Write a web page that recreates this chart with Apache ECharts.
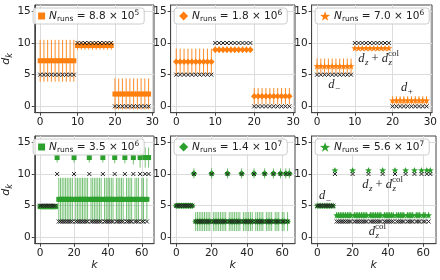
<!DOCTYPE html>
<html><head><meta charset="utf-8">
<script src="https://cdn.jsdelivr.net/npm/echarts@6/dist/echarts.min.js"></script>
<style>html,body{margin:0;padding:0;background:#fff}#c{width:440px;height:280px}</style>
</head><body><div id="c"></div>
<script>
// ---------------- DATA ----------------
const kTop = [0,1,2,3,4,5,6,7,8,9,10,11,12,13,14,15,16,17,18,19,20,21,22,23,24,25,26,27,28,29];
const trueTop = [5,5,5,5,5,5,5,5,5,5, 10,10,10,10,10,10,10,10,10,10, 0,0,0,0,0,0,0,0,0,0];
const estP1 = [7.2,7.2,7.2,7.2,7.2,7.2,7.2,7.2,7.2,7.2, 9.6,9.6,9.6,9.6,9.6,9.6,9.6,9.6,9.6,9.6, 1.95,1.95,1.95,1.95,1.95,1.95,1.95,1.95,1.95,1.95];
const errP1 = [3.3,3.3,3.3,3.3,3.3,3.3,3.3,3.3,3.3,3.3, 0.65,0.65,0.65,0.65,0.65,0.65,0.65,0.65,0.65,0.65, 2.45,2.45,2.45,2.45,2.45,2.45,2.45,2.45,2.45,2.45];
const estP2 = [7.05,7.05,7.05,7.05,7.05,7.05,7.05,7.05,7.05,7.05, 8.95,8.95,8.95,8.95,8.95,8.95,8.95,8.95,8.95,8.95, 1.6,1.6,1.6,1.6,1.6,1.6,1.6,1.6,1.6,1.6];
const errP2 = [2.05,2.05,2.05,2.05,2.05,2.05,2.05,2.05,2.05,2.05, 0.5,0.5,0.5,0.5,0.5,0.5,0.5,0.5,0.5,0.5, 1.3,1.3,1.3,1.3,1.3,1.3,1.3,1.3,1.3,1.3];
const estP3 = [6.35,6.35,6.35,6.35,6.35,6.35,6.35,6.35,6.35,6.35, 9.2,9.2,9.2,9.2,9.2,9.2,9.2,9.2,9.2,9.2, 0.95,0.95,0.95,0.95,0.95,0.95,0.95,0.95,0.95,0.95];
const errP3 = [1.2,1.2,1.2,1.2,1.2,1.2,1.2,1.2,1.2,1.2, 0.3,0.3,0.3,0.3,0.3,0.3,0.3,0.3,0.3,0.3, 0.65,0.65,0.65,0.65,0.65,0.65,0.65,0.65,0.65,0.65];

const kBot = [0,1,2,3,4,5,6,7,8,9,10,11,12,13,14,15,16,17,18,19,20,21,22,23,24,25,26,27,28,29,30,31,32,33,34,35,36,37,38,39,40,41,42,43,44,45,46,47,48,49,50,51,52,53,54,55,56,57,58,59,60,61,62,63,64];
const trueBot = [5,5,5,5,5,5,5,5,5,5,
  10, 2.5,2.5,2.5,2.5,2.5,2.5,2.5,2.5,2.5,
  10, 2.5,2.5,2.5,2.5,2.5,2.5,2.5,2.5,
  10, 2.5,2.5,2.5,2.5,2.5,2.5,2.5,
  10, 2.5,2.5,2.5,2.5,2.5,2.5,
  10, 2.5,2.5,2.5,2.5,2.5,
  10, 2.5,2.5,2.5,2.5,
  10, 2.5,2.5,2.5,
  10, 2.5,2.5,
  10, 2.5,
  10];
const estP4 = [4.85,4.85,4.85,4.85,4.85,4.85,4.85,4.85,4.85,4.85,
  12.6, 6.0,6.0,6.0,6.0,6.0,6.0,6.0,6.0,6.0,
  12.6, 6.0,6.0,6.0,6.0,6.0,6.0,6.0,6.0,
  12.6, 6.0,6.0,6.0,6.0,6.0,6.0,6.0,
  12.6, 6.0,6.0,6.0,6.0,6.0,6.0,
  12.6, 6.0,6.0,6.0,6.0,6.0,
  12.6, 6.0,6.0,6.0,6.0,
  12.6, 6.0,6.0,6.0,
  12.6, 6.0,6.0,
  12.6, 6.0,
  12.6];
const errP4 = [0.25,0.25,0.25,0.25,0.25,0.25,0.25,0.25,0.25,0.25,
  0.8, 3.4,3.4,3.4,3.4,3.4,3.4,3.4,3.4,3.4,
  0.8, 3.4,3.4,3.4,3.4,3.4,3.4,3.4,3.4,
  0.8, 3.4,3.4,3.4,3.4,3.4,3.4,3.4,
  0.8, 3.4,3.4,3.4,3.4,3.4,3.4,
  0.9, 3.4,3.4,3.4,3.4,3.4,
  0.9, 3.4,3.4,3.4,3.4,
  1.1, 3.4,3.4,3.4,
  1.6, 3.4,3.4,
  1.6, 3.4,
  1.6];
const estP5 = [5.0,5.0,5.0,5.0,5.0,5.0,5.0,5.0,5.0,5.0,
  10.1, 2.5,2.5,2.5,2.5,2.5,2.5,2.5,2.5,2.5,
  10.1, 2.5,2.5,2.5,2.5,2.5,2.5,2.5,2.5,
  10.1, 2.5,2.5,2.5,2.5,2.5,2.5,2.5,
  10.1, 2.5,2.5,2.5,2.5,2.5,2.5,
  10.1, 2.5,2.5,2.5,2.5,2.5,
  10.1, 2.5,2.5,2.5,2.5,
  10.1, 2.5,2.5,2.5,
  10.1, 2.5,2.5,
  10.1, 2.5,
  10.1];
const errP5 = [0.15,0.15,0.15,0.15,0.15,0.15,0.15,0.15,0.15,0.15,
  0.8, 1.5,1.5,1.5,1.5,1.5,1.5,1.5,1.5,1.5,
  0.8, 1.5,1.5,1.5,1.5,1.5,1.5,1.5,1.5,
  0.8, 1.5,1.5,1.5,1.5,1.5,1.5,1.5,
  0.8, 1.5,1.5,1.5,1.5,1.5,1.5,
  0.8, 1.5,1.5,1.5,1.5,1.5,
  0.8, 1.5,1.5,1.5,1.5,
  0.8, 1.5,1.5,1.5,
  0.8, 1.5,1.5,
  0.8, 1.5,
  0.8];
const estP6 = [5.0,5.0,5.0,5.0,5.0,5.0,5.0,5.0,5.0,5.0,
  10.6, 3.5,3.5,3.5,3.5,3.5,3.5,3.5,3.5,3.5,
  10.6, 3.5,3.5,3.5,3.5,3.5,3.5,3.5,3.5,
  10.6, 3.5,3.5,3.5,3.5,3.5,3.5,3.5,
  10.6, 3.5,3.5,3.5,3.5,3.5,3.5,
  10.6, 3.5,3.5,3.5,3.5,3.5,
  10.6, 3.5,3.5,3.5,3.5,
  10.6, 3.5,3.5,3.5,
  10.6, 3.5,3.5,
  10.6, 3.5,
  10.6];
const errP6 = [0.1,0.1,0.1,0.1,0.1,0.1,0.1,0.1,0.1,0.1,
  0.3, 0.5,0.5,0.5,0.5,0.5,0.5,0.5,0.5,0.5,
  0.3, 0.5,0.5,0.5,0.5,0.5,0.5,0.5,0.5,
  0.3, 0.5,0.5,0.5,0.5,0.5,0.5,0.5,
  0.3, 0.5,0.5,0.5,0.5,0.5,0.5,
  0.3, 0.5,0.5,0.5,0.5,0.5,
  0.3, 0.5,0.5,0.5,0.5,
  0.3, 0.5,0.5,0.5,
  0.3, 0.5,0.5,
  0.3, 0.5,
  0.3];

const runsMantissa = ['8.8','1.8','7.0','3.5','1.4','5.6'];
const runsExponent = ['5','6','6','6','7','7'];
const xTicksTop = [0,10,20,30];
const xTicksBot = [0,20,40,60];
const yTicks = [0,5,10,15];

// annotation texts (panel, x, y in data units)
const annotations = [
  {panel:2, x:4.5, y:3.4, parts:[{t:'d',f:'i'},{sub:'−'}]},
  {panel:2, x:16.3, y:7.5, parts:[{t:'d',f:'i'},{sub:'z',subI:true},{t:' + ',f:'r'},{t:'d',f:'i'},{sup:'col',sub:'z',subI:true}]},
  {panel:2, x:23.8, y:2.9, parts:[{t:'d',f:'i'},{sub:'+'}]},
  {panel:5, x:4.4, y:6.5, parts:[{t:'d',f:'i'},{sub:'−'}]},
  {panel:5, x:37, y:8.3, parts:[{t:'d',f:'i'},{sub:'z',subI:true},{t:' + ',f:'r'},{t:'d',f:'i'},{sup:'col',sub:'z',subI:true}]},
  {panel:5, x:34, y:0.95, parts:[{t:'d',f:'i'},{sup:'col',sub:'z',subI:true}]}
];

// ---------------- CHART ----------------
const chart = echarts.init(document.getElementById('c'), null, {renderer:'canvas'});
const FONT = 'DejaVu Sans';
const ORANGE = '#ff7f0e', GREEN = '#2ca02c';
const STAR = 'path://M0,-10L2.35,-3.24L9.51,-3.09L3.8,1.24L5.88,8.09L0,4L-5.88,8.09L-3.8,1.24L-9.51,-3.09L-2.35,-3.24Z';
const XMARK = 'path://M0,0L10,10M10,0L0,10';

const panels = [
  {k:kTop, tr:trueTop, est:estP1, err:errP1, color:ORANGE, sym:'rect', size:5, icon:'rect', iw:7, ih:7},
  {k:kTop, tr:trueTop, est:estP2, err:errP2, color:ORANGE, sym:'diamond', size:6.5, icon:'diamond', iw:9, ih:9},
  {k:kTop, tr:trueTop, est:estP3, err:errP3, color:ORANGE, sym:STAR, size:7, icon:STAR, iw:10, ih:10},
  {k:kBot, tr:trueBot, est:estP4, err:errP4, color:GREEN, sym:'rect', size:5, icon:'rect', iw:7, ih:7},
  {k:kBot, tr:trueBot, est:estP5, err:errP5, color:GREEN, sym:'diamond', size:6.5, icon:'diamond', iw:9, ih:9},
  {k:kBot, tr:trueBot, est:estP6, err:errP6, color:GREEN, sym:STAR, size:7, icon:STAR, iw:10, ih:10}
];
const gridLefts = [29.6, 170.6, 311.6];
const gridTops = [5, 136];
const GW = 124.4, GH = 107.7;

const grids = [], xAxes = [], yAxes = [], series = [], legends = [];
panels.forEach((p, i) => {
  const col = i % 3, row = Math.floor(i / 3);
  const top = row === 0;
  grids.push({left:gridLefts[col], top:gridTops[row], width:GW, height:GH, show:true,
    borderColor:'#444', borderWidth:1, backgroundColor:'transparent'});
  xAxes.push({
    type:'value', gridIndex:i, min: top ? -1.45 : -3.2, max: top ? 30.45 : 67.2,
    axisLine:{show:true, onZero:false, lineStyle:{color:'#444', width:1}},
    axisTick:{show:true, length:3, customValues: top ? xTicksTop : xTicksBot, lineStyle:{color:'#444'}},
    axisLabel:{customValues: top ? xTicksTop : xTicksBot, fontFamily:FONT, fontSize:10.5, color:'#222', margin:4},
    splitLine:{show:true, lineStyle:{color:'#dcdcdc', width:1}},
    name: top ? '' : 'k', nameLocation:'middle', nameGap:13,
    nameTextStyle:{fontFamily:FONT, fontStyle:'italic', fontSize:11, color:'#222'}
  });
  yAxes.push({
    type:'value', gridIndex:i, min:-1, max:16,
    axisLine:{show:true, onZero:false, lineStyle:{color:'#444', width:1}},
    axisTick:{show:true, length:3, customValues:yTicks, lineStyle:{color:'#444'}},
    axisLabel:{customValues:yTicks, fontFamily:FONT, fontSize:10.5, color:'#222', margin:4},
    splitLine:{show:true, lineStyle:{color:'#dcdcdc', width:1}},
    name: col === 0 ? '{i|d}{s|k}' : '', nameLocation:'middle', nameRotate:90, nameGap:17,
    nameTextStyle:{rich:{
      i:{fontFamily:FONT, fontStyle:'italic', fontSize:11, color:'#222', lineHeight:14},
      s:{fontFamily:FONT, fontStyle:'italic', fontSize:8, color:'#222', lineHeight:8, verticalAlign:'bottom'}
    }}
  });
  const errData = p.k.map((kk, j) => [kk, p.est[j] - p.err[j], p.est[j] + p.err[j]]);
  series.push({
    type:'custom', name:'err'+i, xAxisIndex:i, yAxisIndex:i, data:errData, silent:true,
    encode:{x:0, y:[1,2]},
    renderItem:(params, api) => {
      const a = api.coord([api.value(0), api.value(1)]);
      const b = api.coord([api.value(0), api.value(2)]);
      return {type:'line', shape:{x1:a[0], y1:a[1], x2:b[0], y2:b[1]},
        style:{stroke:p.color, lineWidth:1, opacity: row === 0 ? 0.9 : 0.65}};
    }
  });
  series.push({
    type:'scatter', name:'est'+i, xAxisIndex:i, yAxisIndex:i,
    data:p.k.map((kk, j) => [kk, p.est[j]]),
    symbol:p.sym, symbolSize:p.size, symbolKeepAspect:true,
    itemStyle:{color:p.color, opacity:1}, silent:true
  });
  series.push({
    type:'scatter', name:'true'+i, xAxisIndex:i, yAxisIndex:i,
    data:p.k.map((kk, j) => [kk, p.tr[j]]),
    symbol:XMARK, symbolSize:4,
    itemStyle:{color:'none', borderColor:'#222', borderWidth:1, opacity:1}, silent:true
  });
  legends.push({
    data:[{name:'est'+i, icon:p.icon, itemStyle:{color:p.color}}],
    left:gridLefts[col] + 3.5, top:gridTops[row] + 3,
    itemWidth:p.iw, itemHeight:p.ih, itemGap:4,
    padding:[1,5,1,5], backgroundColor:'rgba(255,255,255,0.85)',
    borderColor:'#cccccc', borderWidth:1, borderRadius:3,
    selectedMode:false,
    formatter: () => '{i|N}{s|runs}{t| = ' + runsMantissa[i] + ' × 10}{p|' + runsExponent[i] + '}',
    textStyle:{padding:[0,0,0,-1], rich:{
      i:{fontFamily:FONT, fontStyle:'italic', fontSize:10.5, color:'#222', lineHeight:14},
      s:{fontFamily:FONT, fontSize:7.5, color:'#222', lineHeight:7, verticalAlign:'bottom'},
      t:{fontFamily:FONT, fontSize:10.5, color:'#222', lineHeight:14},
      p:{fontFamily:FONT, fontSize:7.5, color:'#222', lineHeight:7, verticalAlign:'top'}
    }}
  });
});

chart.setOption({
  animation:false,
  grid:grids, xAxis:xAxes, yAxis:yAxes, series:series, legend:legends
});

// math-like annotations
const mctx = document.createElement('canvas').getContext('2d');
function tw(text, font){ mctx.font = font; return mctx.measureText(text).width; }
function mathGroup(parts, cx, cy) {
  const MAIN = 12.5, SMALL = 9, FAM = '"Liberation Serif"';
  let x = 0; const kids = [];
  parts.forEach(p => {
    if (p.t !== undefined) {
      const font = (p.f === 'i' ? 'italic ' : '') + MAIN + 'px ' + FAM;
      kids.push({type:'text', x:x, y:0, style:{text:p.t, font:font, fill:'#222', align:'left', verticalAlign:'middle'}});
      x += tw(p.t, font);
    } else {
      let w = 0;
      if (p.sup) {
        const font = SMALL + 'px ' + FAM;
        kids.push({type:'text', x:x, y:-5, style:{text:p.sup, font:font, fill:'#222', align:'left', verticalAlign:'middle'}});
        w = Math.max(w, tw(p.sup, font));
      }
      if (p.sub) {
        const font = (p.subI ? 'italic ' : '') + SMALL + 'px ' + FAM;
        kids.push({type:'text', x:x + 0.5, y:4, style:{text:p.sub, font:font, fill:'#222', align:'left', verticalAlign:'middle'}});
        w = Math.max(w, tw(p.sub, font) + 0.5);
      }
      x += w;
    }
  });
  return {type:'group', x:cx - x / 2, y:cy, children:kids, silent:true};
}
const graphics = annotations.map(a => {
  const px = chart.convertToPixel({xAxisIndex:a.panel, yAxisIndex:a.panel}, [a.x, a.y]);
  return mathGroup(a.parts, px[0], px[1]);
});
chart.setOption({graphic:graphics});
</script></body></html>
